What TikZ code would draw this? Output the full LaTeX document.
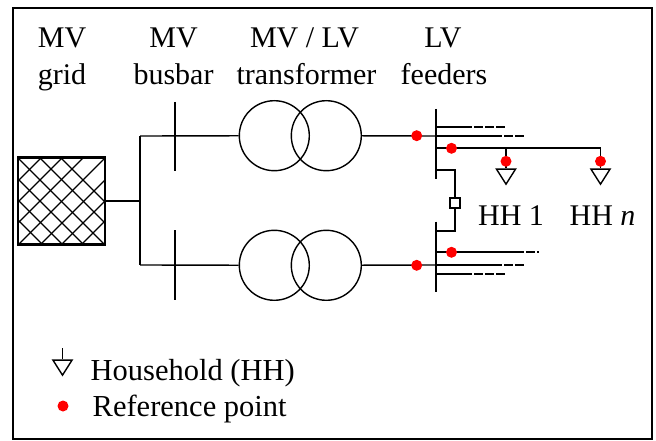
\documentclass[tikz,border=0pt]{standalone}
\usepackage{fontspec}
\setmainfont{Liberation Serif}
\usetikzlibrary{shapes.geometric}

\begin{document}
\begin{tikzpicture}[x=1pt, y=-1pt,
    txt/.style = {font=\fontsize{30}{37}\selectfont, inner sep=0pt, anchor=base},
    bus/.style = {line width=2.6pt},
    wire/.style = {line width=1.4pt},
    xfmr/.style = {draw, circle, line width=1.4pt, minimum size=70pt, inner sep=0pt},
    refpt/.style = {circle, fill=red, minimum size=11pt, inner sep=0pt},
    load/.style = {draw, isosceles triangle, isosceles triangle stretches, shape border rotate=-90, line width=1.4pt, minimum height=15pt, minimum width=19pt, inner sep=0pt, anchor=apex},
    tiepoint/.style = {draw, fill=white, line width=1.4pt, minimum size=10pt, inner sep=0pt},
    tail/.style = {wire, dash pattern=on 9pt off 2pt}]
    \useasboundingbox (0,0) rectangle (656,441);
    \draw[line width=2pt] (13,8) rectangle (652,439);

    % titles
    \node[txt] (t1) at (62,48) {MV};
    \node[txt] (t1b) at (62,85) {grid};
    \node[txt] (t2) at (173.5,48) {MV};
    \node[txt] (t2b) at (173.5,85) {busbar};
    \node[txt] (t3) at (304.5,48) {MV / LV};
    \node[txt] (t3b) at (306.5,85) {transformer};
    \node[txt] (t4) at (443,48) {LV};
    \node[txt] (t4b) at (444,85) {feeders};

    % grid
    \begin{scope}
        \clip (18,158) rectangle (105,244);
        \foreach \d in {-62,-42,-21,0,22,43} {
            \draw[line width=1.2pt] (18+\d,158) -- (105+\d,245);
        }
        \foreach \d in {23,44,65,87,109,130,150} {
            \draw[line width=1.2pt] (18+\d,158) -- (\d-69,245);
        }
    \end{scope}
    \node[draw, line width=2.2pt, minimum size=87pt, inner sep=0pt] (grid) at (61.5,201) {};

    % MV side
    \coordinate (j0) at (140,201);
    \coordinate (j1) at (140,136);
    \coordinate (j2) at (140,265);
    \coordinate (b1t) at (175,102);
    \coordinate (b1b) at (175,171);
    \coordinate (b2t) at (175,230);
    \coordinate (b2b) at (175,300);
    \draw[wire] (grid.east |- j0) -- (j0);
    \draw[wire] (j1) -- (j2);
    \draw[bus] (b1t) -- (b1b);
    \draw[bus] (b2t) -- (b2b);

    % transformers
    \node[xfmr] (x1) at (274.3,135.7) {};
    \node[xfmr] (x2) at (326.3,135.7) {};
    \node[xfmr] (x3) at (274.3,265.3) {};
    \node[xfmr] (x4) at (326.3,265.3) {};
    \draw[wire] (j1) -- (x1);
    \draw[wire] (j2) -- (x3);

    % LV busbars
    \coordinate (l1t) at (436,109);
    \coordinate (l1b) at (436,179);
    \coordinate (l2t) at (436,221.5);
    \coordinate (l2b) at (436,292);
    \draw[bus] (l1t) -- (l1b);
    \draw[bus] (l2t) -- (l2b);
    \coordinate (a1) at (436,136);
    \coordinate (a2) at (436,265);
    \draw[wire] (x2) -- (a1);
    \draw[wire] (x4) -- (a2);

    % bus tie
    \node[tiepoint] (tie) at (455,203) {};
    \coordinate (c1) at (436,170);
    \coordinate (c2) at (436,231);
    \draw[wire] (c1) -| (tie);
    \draw[wire] (c2) -| (tie);

    % feeders
    \coordinate (f1) at (436,127);
    \coordinate (f1a) at (472,127);
    \coordinate (f1c) at (474,127);
    \coordinate (f1b) at (505,127);
    \coordinate (f2a) at (493,136);
    \coordinate (f2b) at (525,136);
    \coordinate (f3) at (436,148);
    \coordinate (f4) at (436,252);
    \coordinate (f4a) at (515,252);
    \coordinate (f4b) at (539,252);
    \coordinate (f5a) at (493,265);
    \coordinate (f5b) at (525,265);
    \coordinate (f6) at (436,274);
    \coordinate (f6a) at (472,274);
    \coordinate (f6c) at (474,274);
    \coordinate (f6b) at (505,274);
    \draw[wire] (f1) -- (f1a);
    \draw[tail] (f1c) -- (f1b);
    \draw[wire] (a1) -- (f2a);
    \draw[tail] (f2a) -- (f2b);
    \draw[wire] (f4) -- (f4a);
    \draw[tail] (f4a) -- (f4b);
    \draw[wire] (a2) -- (f5a);
    \draw[tail] (f5a) -- (f5b);
    \draw[wire] (f6) -- (f6a);
    \draw[tail] (f6c) -- (f6b);

    % households
    \node[load] (h1) at (506,186) {};
    \node[load] (h2) at (600.5,186) {};
    \coordinate (f3a) at (506,148);
    \coordinate (f3b) at (600.5,148);
    \draw[wire] (f3) -- (f3b);
    \draw[wire] (f3a) -- (h1.north);
    \draw[wire] (f3b) -- (h2.north);
    \node[txt] (t5) at (511,225.5) {HH 1};
    \node[txt] (t6) at (602.5,225.5) {HH \textit{n}};

    % reference points
    \node[refpt] (r1) at (416.7,135.7) {};
    \node[refpt] (r2) at (451.5,148.3) {};
    \node[refpt] (r3) at (506,161.3) {};
    \node[refpt] (r4) at (600.5,161.3) {};
    \node[refpt] (r5) at (451.5,252.3) {};
    \node[refpt] (r6) at (416.7,265.3) {};

    % legend
    \node[load] (h3) at (62.5,377) {};
    \coordinate (h3t) at (62.5,348);
    \draw[wire] (h3t) -- (h3.north);
    \node[refpt] (r7) at (63,406) {};
    \node[txt, anchor=base west, font=\fontsize{30.5}{37}\selectfont] (t7) at (90.5,380.5) {Household (HH)};
    \node[txt, anchor=base west, font=\fontsize{30.5}{37}\selectfont] (t8) at (92.5,416.5) {Reference point};
\end{tikzpicture}
\end{document}
